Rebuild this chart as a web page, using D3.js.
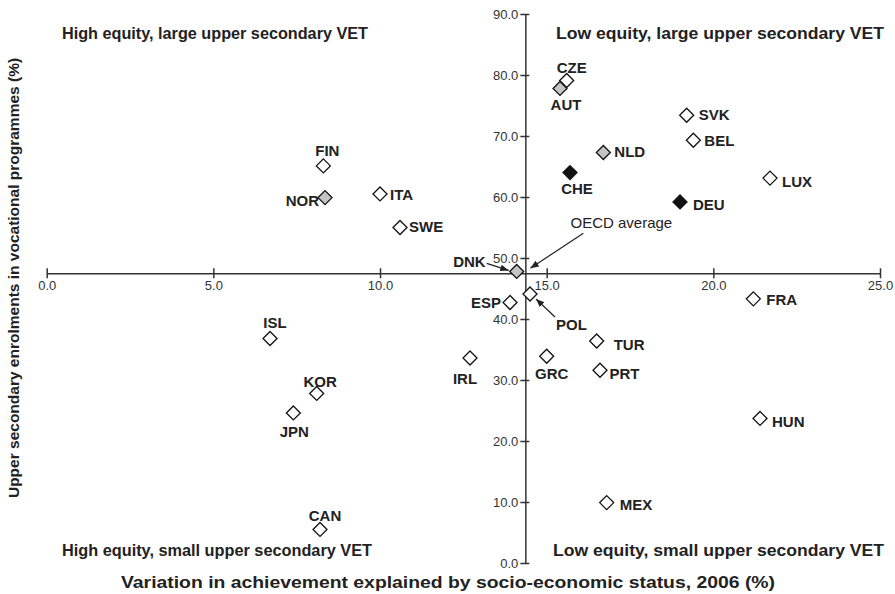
<!DOCTYPE html>
<html>
<head>
<meta charset="utf-8">
<title>VET share vs equity</title>
<script src="https://d3js.org/d3.v7.min.js"></script>
<style>
  body { margin: 0; background: #fff; }
  svg { font-family: "Liberation Sans", Arial, sans-serif; }
  .axis path, .axis line { stroke: #333; stroke-width: 1.5px; }
  .axis text { fill: #333; font-size: 13px; }
  .lbl { font-weight: bold; font-size: 15px; fill: #222; }
  .quad { font-weight: bold; font-size: 16px; fill: #222; }
</style>
</head>
<body>
<script>
// data
var countries = ["CZE","AUT","NLD","CHE","DEU","SVK","BEL","LUX","FRA","HUN","MEX","TUR","PRT","GRC",
                 "POL","ESP","DNK","IRL","ISL","KOR","JPN","CAN","FIN","NOR","ITA","SWE"];
var sesVariation = [15.6,15.4,16.7,15.7,19.0,19.2,19.4,21.7,21.2,21.4,16.8,16.5,16.6,15.0,
                    14.5,13.9,14.1,12.7,6.7,8.1,7.4,8.2,8.3,8.35,10.0,10.6];
var vetShare = [79.1,77.8,67.3,64.0,59.2,73.4,69.3,63.1,43.3,23.7,9.9,36.4,31.6,33.9,
                44.1,42.7,47.8,33.6,36.8,27.8,24.6,5.5,65.1,59.9,60.5,55.0];
// system type: 0 = open, 1 = grey, 2 = black
var systemType = [0,1,1,2,2,0,0,0,0,0,0,0,0,0,
                  0,0,1,0,0,0,0,0,0,1,0,0];
var oecdAverage = {x: 14.36, y: 47.5};
var xTicks = [0,5,10,15,20,25];
var yTicks = [0,10,20,30,40,50,60,70,80,90];
var quadrantLabels = ["High equity, large upper secondary VET","Low equity, large upper secondary VET",
                      "High equity, small upper secondary VET","Low equity, small upper secondary VET"];

// label placement relative to the marker: [dx, dy, anchor]
var labelPos = {
  CZE:[5,-7.5,"middle"], AUT:[6,21.5,"middle"], NLD:[11,5,"start"], CHE:[7,21.5,"middle"],
  DEU:[13,8,"start"], SVK:[12,5,"start"], BEL:[11,6,"start"], LUX:[12,9,"start"],
  FRA:[13,6,"start"], HUN:[12,8.5,"start"], MEX:[13,7.5,"start"], TUR:[17,9,"start"],
  PRT:[9.5,9,"start"], GRC:[5,23,"middle"], POL:[26,36,"start"], ESP:[-9,5.5,"end"],
  DNK:[-31,-4.5,"end"], IRL:[-5,26,"middle"], ISL:[5,-10.5,"middle"], KOR:[3.5,-6,"middle"],
  JPN:[1,24,"middle"], CAN:[5,-8,"middle"], FIN:[4,-10,"middle"], NOR:[-6,8.5,"end"],
  ITA:[10,6,"start"], SWE:[9,4.5,"start"]
};

var W = 895, H = 594;
var x = d3.scaleLinear().domain([0, 25]).range([46.7, 880]);
var y = d3.scaleLinear().domain([0, 90]).range([563, 14]);
var fills = ["#fff", "#c4c4c4", "#111"];

var svg = d3.select("body").append("svg").attr("width", W).attr("height", H);

svg.append("defs").append("marker")
    .attr("id", "arr")
    .attr("viewBox", "0 0 10 10")
    .attr("refX", 10).attr("refY", 5)
    .attr("markerWidth", 7).attr("markerHeight", 7)
    .attr("orient", "auto")
  .append("path")
    .attr("d", "M0,1 L10,5 L0,9 z")
    .attr("fill", "#222");

// axes crossing at the OECD average
var xAxis = svg.append("g")
    .attr("class", "axis")
    .attr("transform", "translate(0," + y(oecdAverage.y) + ")")
    .call(d3.axisBottom(x).tickValues(xTicks).tickFormat(d3.format(".1f"))
      .tickSizeInner(4).tickSizeOuter(0).tickPadding(4));
xAxis.selectAll(".tick line").attr("y1", -5).attr("y2", 5);

var yAxis = svg.append("g")
    .attr("class", "axis")
    .attr("transform", "translate(" + x(oecdAverage.x) + ",0)")
    .call(d3.axisLeft(y).tickValues(yTicks).tickFormat(d3.format(".1f"))
      .tickSizeInner(4).tickSizeOuter(0).tickPadding(3));
yAxis.selectAll(".tick line").attr("x1", -5).attr("x2", 4);

var pts = countries.map(function(c, i) {
  return {c: c, x: sesVariation[i], y: vetShare[i], t: systemType[i]};
});

// arrows for crowded labels
function arrow(x1, y1, x2, y2) {
  svg.append("line")
    .attr("x1", x1).attr("y1", y1).attr("x2", x2).attr("y2", y2)
    .attr("stroke", "#222").attr("stroke-width", 1.2)
    .attr("marker-end", "url(#arr)");
}
var dnk = pts[countries.indexOf("DNK")], pol = pts[countries.indexOf("POL")];
arrow(x(dnk.x) - 30, y(dnk.y) - 8, x(dnk.x) - 8, y(dnk.y) - 1);
arrow(x(pol.x) + 25, y(pol.y) + 23, x(pol.x) + 6, y(pol.y) + 5);
arrow(x(oecdAverage.x) + 58, y(oecdAverage.y) - 40, x(oecdAverage.x) + 5, y(oecdAverage.y) - 5);

svg.append("text")
    .attr("x", x(oecdAverage.x) + 96)
    .attr("y", y(oecdAverage.y) - 45)
    .attr("text-anchor", "middle")
    .attr("font-size", 15)
    .attr("fill", "#222")
    .text("OECD average");

// markers
svg.append("g").selectAll("path")
  .data(pts)
  .enter().append("path")
    .attr("transform", function(d) { return "translate(" + x(d.x) + "," + y(d.y) + ")"; })
    .attr("d", "M0,-7 L7,0 L0,7 L-7,0 Z")
    .attr("fill", function(d) { return fills[d.t]; })
    .attr("stroke", "#111")
    .attr("stroke-width", 1.3);

svg.append("g").selectAll("text")
  .data(pts)
  .enter().append("text")
    .attr("class", "lbl")
    .attr("x", function(d) { return x(d.x) + labelPos[d.c][0]; })
    .attr("y", function(d) { return y(d.y) + labelPos[d.c][1]; })
    .attr("text-anchor", function(d) { return labelPos[d.c][2]; })
    .text(function(d) { return d.c; });

// quadrant captions (right-hand ones are set a little wider in the original)
var qx = [62, 884, 62, 884], qy = [39, 39, 556, 556], qw = [306, 328, 310, 331];
quadrantLabels.forEach(function(t, i) {
  svg.append("text")
    .attr("class", "quad")
    .attr("x", qx[i]).attr("y", qy[i])
    .attr("text-anchor", i % 2 ? "end" : "start")
    .attr("textLength", qw[i])
    .attr("lengthAdjust", "spacingAndGlyphs")
    .text(t);
});

svg.append("text")
    .attr("class", "quad")
    .attr("x", 448).attr("y", 588)
    .attr("text-anchor", "middle")
    .attr("textLength", 654)
    .attr("lengthAdjust", "spacingAndGlyphs")
    .text("Variation in achievement explained by socio-economic status, 2006 (%)");

svg.append("text")
    .attr("class", "quad")
    .attr("transform", "translate(19,278) rotate(-90)")
    .attr("text-anchor", "middle")
    .style("font-size", "15.5px")
    .text("Upper secondary enrolments in vocational programmes (%)");
</script>
</body>
</html>
